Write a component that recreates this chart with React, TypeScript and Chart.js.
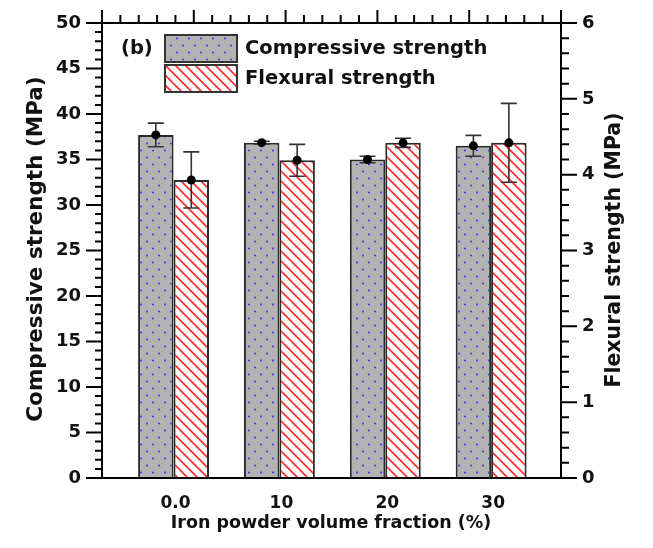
import React, { useEffect, useRef } from 'react';
import { Chart, registerables } from 'chart.js';

Chart.register(...registerables);

const categories = ['0.0', '10', '20', '30'];
const compressive = [37.7, 36.85, 35.0, 36.5];
const compressiveErr = [1.3, 0.15, 0.35, 1.15];
const flexural = [3.93, 4.19, 4.42, 4.42];
const flexuralErr = [0.37, 0.21, 0.06, 0.52];
const leftTicks = [0, 5, 10, 15, 20, 25, 30, 35, 40, 45, 50];
const rightTicks = [0, 1, 2, 3, 4, 5, 6];
const seriesNames = ['Compressive strength', 'Flexural strength'];

const FONT = "'DejaVu Sans', sans-serif";

function makeDots(ctx: CanvasRenderingContext2D) {
  const c = document.createElement('canvas');
  c.width = 12;
  c.height = 14;
  const g = c.getContext('2d')!;
  g.fillStyle = '#b3b3b3';
  g.fillRect(0, 0, 12, 14);
  g.fillStyle = '#2424ff';
  g.beginPath();
  g.arc(3, 3.5, 0.9, 0, Math.PI * 2);
  g.arc(9, 10.5, 0.9, 0, Math.PI * 2);
  g.fill();
  return ctx.createPattern(c, 'repeat')!;
}

function makeHatch(ctx: CanvasRenderingContext2D) {
  const s = 10;
  const c = document.createElement('canvas');
  c.width = s;
  c.height = s;
  const g = c.getContext('2d')!;
  g.fillStyle = '#ffffff';
  g.fillRect(0, 0, s, s);
  g.strokeStyle = '#ff2e2e';
  g.lineWidth = 1.7;
  g.beginPath();
  g.moveTo(-1, -1);
  g.lineTo(s + 1, s + 1);
  g.moveTo(-2, s - 2);
  g.lineTo(2, s + 2);
  g.moveTo(s - 2, -2);
  g.lineTo(s + 2, 2);
  g.stroke();
  return ctx.createPattern(c, 'repeat')!;
}

export default function App() {
  const ref = useRef<HTMLCanvasElement>(null);

  useEffect(() => {
    document.body.style.margin = '0';
    const canvas = ref.current!;
    const ctx0 = canvas.getContext('2d')!;
    const dots = makeDots(ctx0);
    const hatch = makeHatch(ctx0);

    const errs = [compressiveErr, flexuralErr];
    const vals = [compressive, flexural];

    const decor = {
      id: 'decor',
      afterDatasetsDraw(chart: any) {
        const ctx = chart.ctx as CanvasRenderingContext2D;
        const a = chart.chartArea;
        const yL = chart.scales.y;
        const yR = chart.scales.y2;
        const xS = chart.scales.x;
        ctx.save();

        // error bars
        [0, 1].forEach((d) => {
          const meta = chart.getDatasetMeta(d);
          const ys = d === 0 ? yL : yR;
          meta.data.forEach((el: any, i: number) => {
            const v = vals[d][i];
            const e = errs[d][i];
            const x = el.x;
            const yt = ys.getPixelForValue(v + e);
            const yb = ys.getPixelForValue(v - e);
            const yc = ys.getPixelForValue(v);
            ctx.strokeStyle = '#333';
            ctx.lineWidth = 1.6;
            ctx.beginPath();
            ctx.moveTo(x, yt);
            ctx.lineTo(x, yb);
            ctx.moveTo(x - 8, yt);
            ctx.lineTo(x + 8, yt);
            ctx.moveTo(x - 8, yb);
            ctx.lineTo(x + 8, yb);
            ctx.stroke();
            ctx.fillStyle = '#000';
            ctx.beginPath();
            ctx.arc(x, yc, 4.5, 0, Math.PI * 2);
            ctx.fill();
          });
        });

        // frame
        ctx.strokeStyle = '#000';
        ctx.lineWidth = 2;
        ctx.strokeRect(a.left, a.top, a.right - a.left, a.bottom - a.top);

        // ticks
        ctx.beginPath();
        for (let v = 0; v <= 50; v += 1) {
          const y = yL.getPixelForValue(v);
          const len = v % 5 === 0 ? 16 : 7;
          ctx.moveTo(a.left - len, y);
          ctx.lineTo(a.left, y);
        }
        for (let k = 0; k <= 30; k++) {
          const v = k * 0.2;
          const y = yR.getPixelForValue(v);
          const len = k % 5 === 0 ? 16 : 8;
          ctx.moveTo(a.right, y);
          ctx.lineTo(a.right + len, y);
        }
        const nTop = 25;
        const w = (a.right - a.left) / nTop;
        for (let k = 0; k <= nTop; k++) {
          const x = a.left + k * w;
          const len = k % 5 === 0 ? 13 : 8;
          ctx.moveTo(x, a.top);
          ctx.lineTo(x, a.top - len);
        }
        ctx.stroke();

        // tick labels
        ctx.fillStyle = '#111';
        ctx.font = `bold 18px ${FONT}`;
        ctx.textBaseline = 'middle';
        ctx.textAlign = 'right';
        leftTicks.forEach((t) => ctx.fillText(String(t), a.left - 21, yL.getPixelForValue(t)));
        ctx.textAlign = 'left';
        rightTicks.forEach((t) => ctx.fillText(String(t), a.right + 21, yR.getPixelForValue(t)));
        ctx.font = `bold 17px ${FONT}`;
        ctx.textAlign = 'center';
        categories.forEach((c, i) => ctx.fillText(c, xS.getPixelForValue(i) + 2, a.bottom + 26));

        // axis titles
        ctx.font = `bold 17.5px ${FONT}`;
        ctx.fillText('Iron powder volume fraction (%)', 331, a.bottom + 45);
        ctx.font = `bold 21.5px ${FONT}`;
        ctx.save();
        ctx.translate(36, 249);
        ctx.rotate(-Math.PI / 2);
        ctx.fillText('Compressive strength (MPa)', 0, 0);
        ctx.restore();
        ctx.font = `bold 20.5px ${FONT}`;
        ctx.save();
        ctx.translate(615, 250);
        ctx.rotate(-Math.PI / 2);
        ctx.fillText('Flexural strength (MPa)', 0, 0);
        ctx.restore();

        // legend
        ctx.textAlign = 'left';
        ctx.font = `bold 19.5px ${FONT}`;
        ctx.fillText('(b)', 121, 49);
        const boxes = [
          { y: 35, fill: dots },
          { y: 65, fill: hatch },
        ];
        boxes.forEach((b, i) => {
          ctx.fillStyle = b.fill;
          ctx.fillRect(165, b.y, 72, 27);
          ctx.strokeStyle = '#333';
          ctx.lineWidth = 2;
          ctx.strokeRect(165, b.y, 72, 27);
          ctx.fillStyle = '#111';
          ctx.fillText(seriesNames[i], 245, b.y + 14);
        });

        ctx.restore();
      },
    };

    const chart = new Chart(canvas, {
      type: 'bar',
      data: {
        datasets: [
          {
            label: seriesNames[0],
            data: compressive.map((v, i) => ({ x: i, y: v })),
            yAxisID: 'y',
            backgroundColor: dots,
            borderColor: '#2a2a2a',
            borderWidth: 2,
            categoryPercentage: 0.67,
            barPercentage: 1,
          },
          {
            label: seriesNames[1],
            data: flexural.map((v, i) => ({ x: i, y: v })),
            yAxisID: 'y2',
            backgroundColor: hatch,
            borderColor: '#2a2a2a',
            borderWidth: 2,
            categoryPercentage: 0.67,
            barPercentage: 1,
          },
        ],
      } as any,
      options: {
        responsive: false,
        animation: false,
        layout: { padding: { left: 102, right: 92, top: 23, bottom: 70 } },
        scales: {
          x: {
            type: 'linear',
            min: -0.676,
            max: 3.66,
            offset: false,
            display: false,
            afterBuildTicks: (s: any) => {
              s.ticks = categories.map((_, i) => ({ value: i }));
            },
          },
          y: { min: 0, max: 50, display: false },
          y2: { min: 0, max: 6, display: false, position: 'right' },
        },
        plugins: { legend: { display: false }, tooltip: { enabled: false } },
      } as any,
      plugins: [decor],
    });
    return () => chart.destroy();
  }, []);

  return (
    <div style={{ width: 653, height: 548, background: '#fff' }}>
      <canvas ref={ref} width={653} height={548} style={{ display: 'block' }} />
    </div>
  );
}
